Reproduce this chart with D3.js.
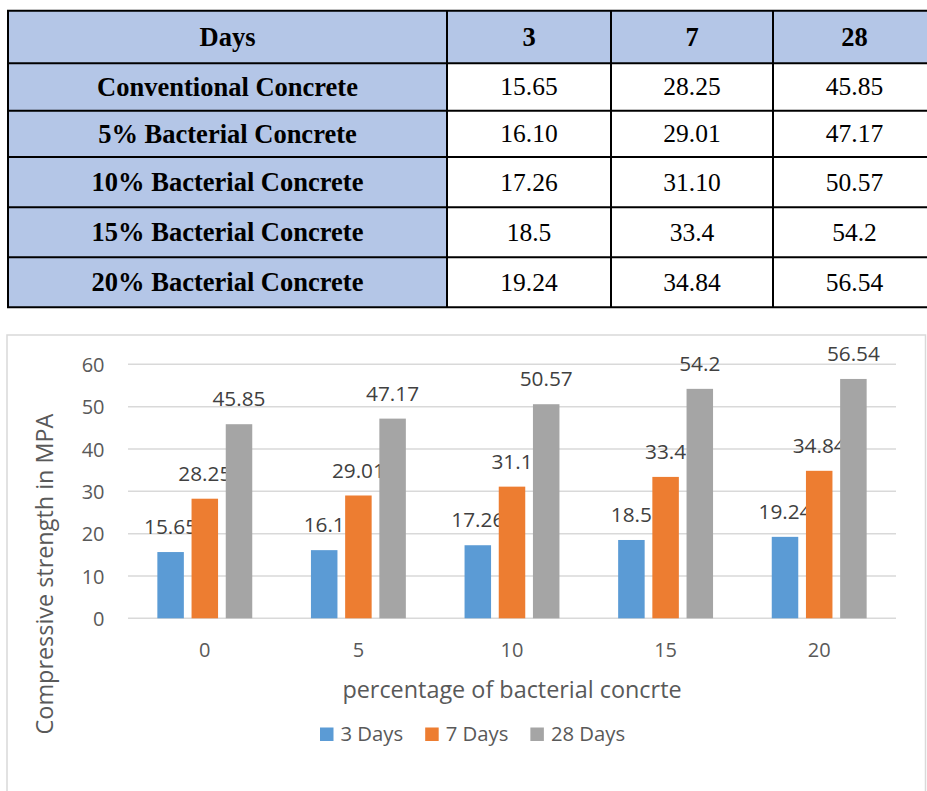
<!DOCTYPE html>
<html>
<head>
<meta charset="utf-8">
<script src="https://cdn.jsdelivr.net/npm/d3@7"></script>
<style>
  html, body { margin: 0; padding: 0; background: #ffffff; }
  svg { display: block; }
</style>
</head>
<body>
<svg id="chart" width="927" height="791"></svg>
<script>
// ---- Data ----
const tableHeader = ["Days", "3", "7", "28"];
const tableRowLabels = ["Conventional Concrete", "5% Bacterial Concrete", "10% Bacterial Concrete", "15% Bacterial Concrete", "20% Bacterial Concrete"];
const tableDay3 = ["15.65", "16.10", "17.26", "18.5", "19.24"];
const tableDay7 = ["28.25", "29.01", "31.10", "33.4", "34.84"];
const tableDay28 = ["45.85", "47.17", "50.57", "54.2", "56.54"];

const categories = ["0", "5", "10", "15", "20"];
const seriesNames = ["3 Days", "7 Days", "28 Days"];
const values3 = [15.65, 16.1, 17.26, 18.5, 19.24];
const values7 = [28.25, 29.01, 31.1, 33.4, 34.84];
const values28 = [45.85, 47.17, 50.57, 54.2, 56.54];
const yTicks = [0, 10, 20, 30, 40, 50, 60];
const xTitle = "percentage of bacterial concrte";
const yTitle = "Compressive strength in MPA";

const colors = ["#5B9BD5", "#ED7D31", "#A5A5A5"];
const seriesValues = [values3, values7, values28];

const svg = d3.select("#chart");

// ---- Table ----
const colEdges = [8, 447, 611, 773, 936];
const rowEdges = [10.7, 63.3, 110.7, 157, 207.3, 257.3, 307.3];
const tableCols = [tableRowLabels, tableDay3, tableDay7, tableDay28];
const tFont = "'Liberation Serif', 'Times New Roman', serif";
const tg = svg.append("g");

for (let r = 0; r < rowEdges.length - 1; r++) {
  for (let c = 0; c < colEdges.length - 1; c++) {
    const isHead = r === 0 || c === 0;
    const size = isHead ? 26.5 : 25.5;
    tg.append("rect")
      .attr("x", colEdges[c]).attr("y", rowEdges[r])
      .attr("width", colEdges[c + 1] - colEdges[c])
      .attr("height", rowEdges[r + 1] - rowEdges[r])
      .attr("fill", isHead ? "#B4C6E7" : "#ffffff");
    const txt = r === 0 ? tableHeader[c] : tableCols[c][r - 1];
    tg.append("text")
      .attr("x", (colEdges[c] + colEdges[c + 1]) / 2)
      .attr("y", (rowEdges[r] + rowEdges[r + 1]) / 2 + size * 0.33)
      .attr("text-anchor", "middle")
      .attr("font-family", tFont)
      .attr("font-size", size)
      .attr("font-weight", isHead ? "bold" : "normal")
      .attr("fill", "#000")
      .text(txt);
  }
}
rowEdges.forEach(y => tg.append("line").attr("x1", colEdges[0] - 1).attr("x2", colEdges[colEdges.length - 1])
  .attr("y1", y).attr("y2", y).attr("stroke", "#000").attr("stroke-width", 2));
colEdges.forEach(x => tg.append("line").attr("x1", x).attr("x2", x)
  .attr("y1", rowEdges[0]).attr("y2", rowEdges[rowEdges.length - 1]).attr("stroke", "#000").attr("stroke-width", 2));

// ---- Chart box ----
svg.append("rect")
  .attr("x", 7).attr("y", 335).attr("width", 918.5).attr("height", 480)
  .attr("fill", "#ffffff").attr("stroke", "#D9D9D9").attr("stroke-width", 1.5);

const font = "'Open Sans', 'Noto Sans', sans-serif";
const plotL = 128, plotR = 896, plotT = 364.3, plotB = 618.3;

const x = d3.scaleBand().domain(categories).range([plotL, plotR]).paddingInner(0).paddingOuter(0);
const xs = d3.scaleBand().domain(seriesNames).range([-47.45, 47.45]).paddingInner(0.225).paddingOuter(0);
const y = d3.scaleLinear().domain([0, 60]).range([plotB, plotT]);

// gridlines
const grid = svg.append("g");
yTicks.forEach(t => {
  grid.append("line").attr("x1", plotL).attr("x2", plotR)
    .attr("y1", y(t)).attr("y2", y(t))
    .attr("stroke", "#D9D9D9").attr("stroke-width", 1.5);
});

// y axis labels
const yAxis = d3.axisLeft(y).tickValues(yTicks).tickSize(0).tickPadding(0).tickFormat(d3.format("d"));
const yg = svg.append("g").attr("transform", `translate(${104.5},0)`).call(yAxis);
yg.select(".domain").remove();
yg.selectAll("text").attr("font-family", font).attr("font-size", 20).attr("fill", "#595959")
  .attr("dy", "0.36em").attr("x", 0);

// x axis labels
const xAxis = d3.axisBottom(x).tickSize(0).tickPadding(0);
const xg = svg.append("g").attr("transform", `translate(0,${plotB})`).call(xAxis);
xg.select(".domain").remove();
xg.selectAll("text").attr("font-family", font).attr("font-size", 20).attr("fill", "#595959")
  .attr("y", 38.8).attr("dy", 0);

// bars
seriesNames.forEach((s, si) => {
  const g = svg.append("g");
  g.selectAll("rect").data(seriesValues[si]).join("rect")
    .attr("x", (d, i) => x(categories[i]) + x.bandwidth() / 2 + xs(s))
    .attr("y", d => y(d))
    .attr("width", xs.bandwidth())
    .attr("height", d => y(0) - y(d))
    .attr("fill", colors[si]);
  g.selectAll("text").data(seriesValues[si]).join("text")
    .attr("x", (d, i) => x(categories[i]) + x.bandwidth() / 2 + xs(s) + xs.bandwidth() / 2)
    .attr("y", d => y(d) - 17.8)
    .attr("text-anchor", "middle")
    .attr("font-family", font).attr("font-size", 20.8).attr("fill", "#404040")
    .text(d => String(d));
});

// axis titles
svg.append("text")
  .attr("x", (plotL + plotR) / 2).attr("y", 698)
  .attr("text-anchor", "middle")
  .attr("font-family", font).attr("font-size", 23.4).attr("fill", "#595959")
  .text(xTitle);

svg.append("text")
  .attr("transform", `translate(52.5,574) rotate(-90)`)
  .attr("text-anchor", "middle")
  .attr("font-family", font).attr("font-size", 23.4).attr("fill", "#595959")
  .text(yTitle);

// legend
const lg = svg.append("g");
let lx = 320;
seriesNames.forEach((s, si) => {
  lg.append("rect").attr("x", lx).attr("y", 727.5).attr("width", 13.5).attr("height", 13.5).attr("fill", colors[si]);
  const t = lg.append("text").attr("x", lx + 20.5).attr("y", 740.5)
    .attr("font-family", font).attr("font-size", 20.3).attr("fill", "#595959").text(s);
  lx += 20.5 + t.node().getComputedTextLength() + 22;
});
</script>
</body>
</html>
